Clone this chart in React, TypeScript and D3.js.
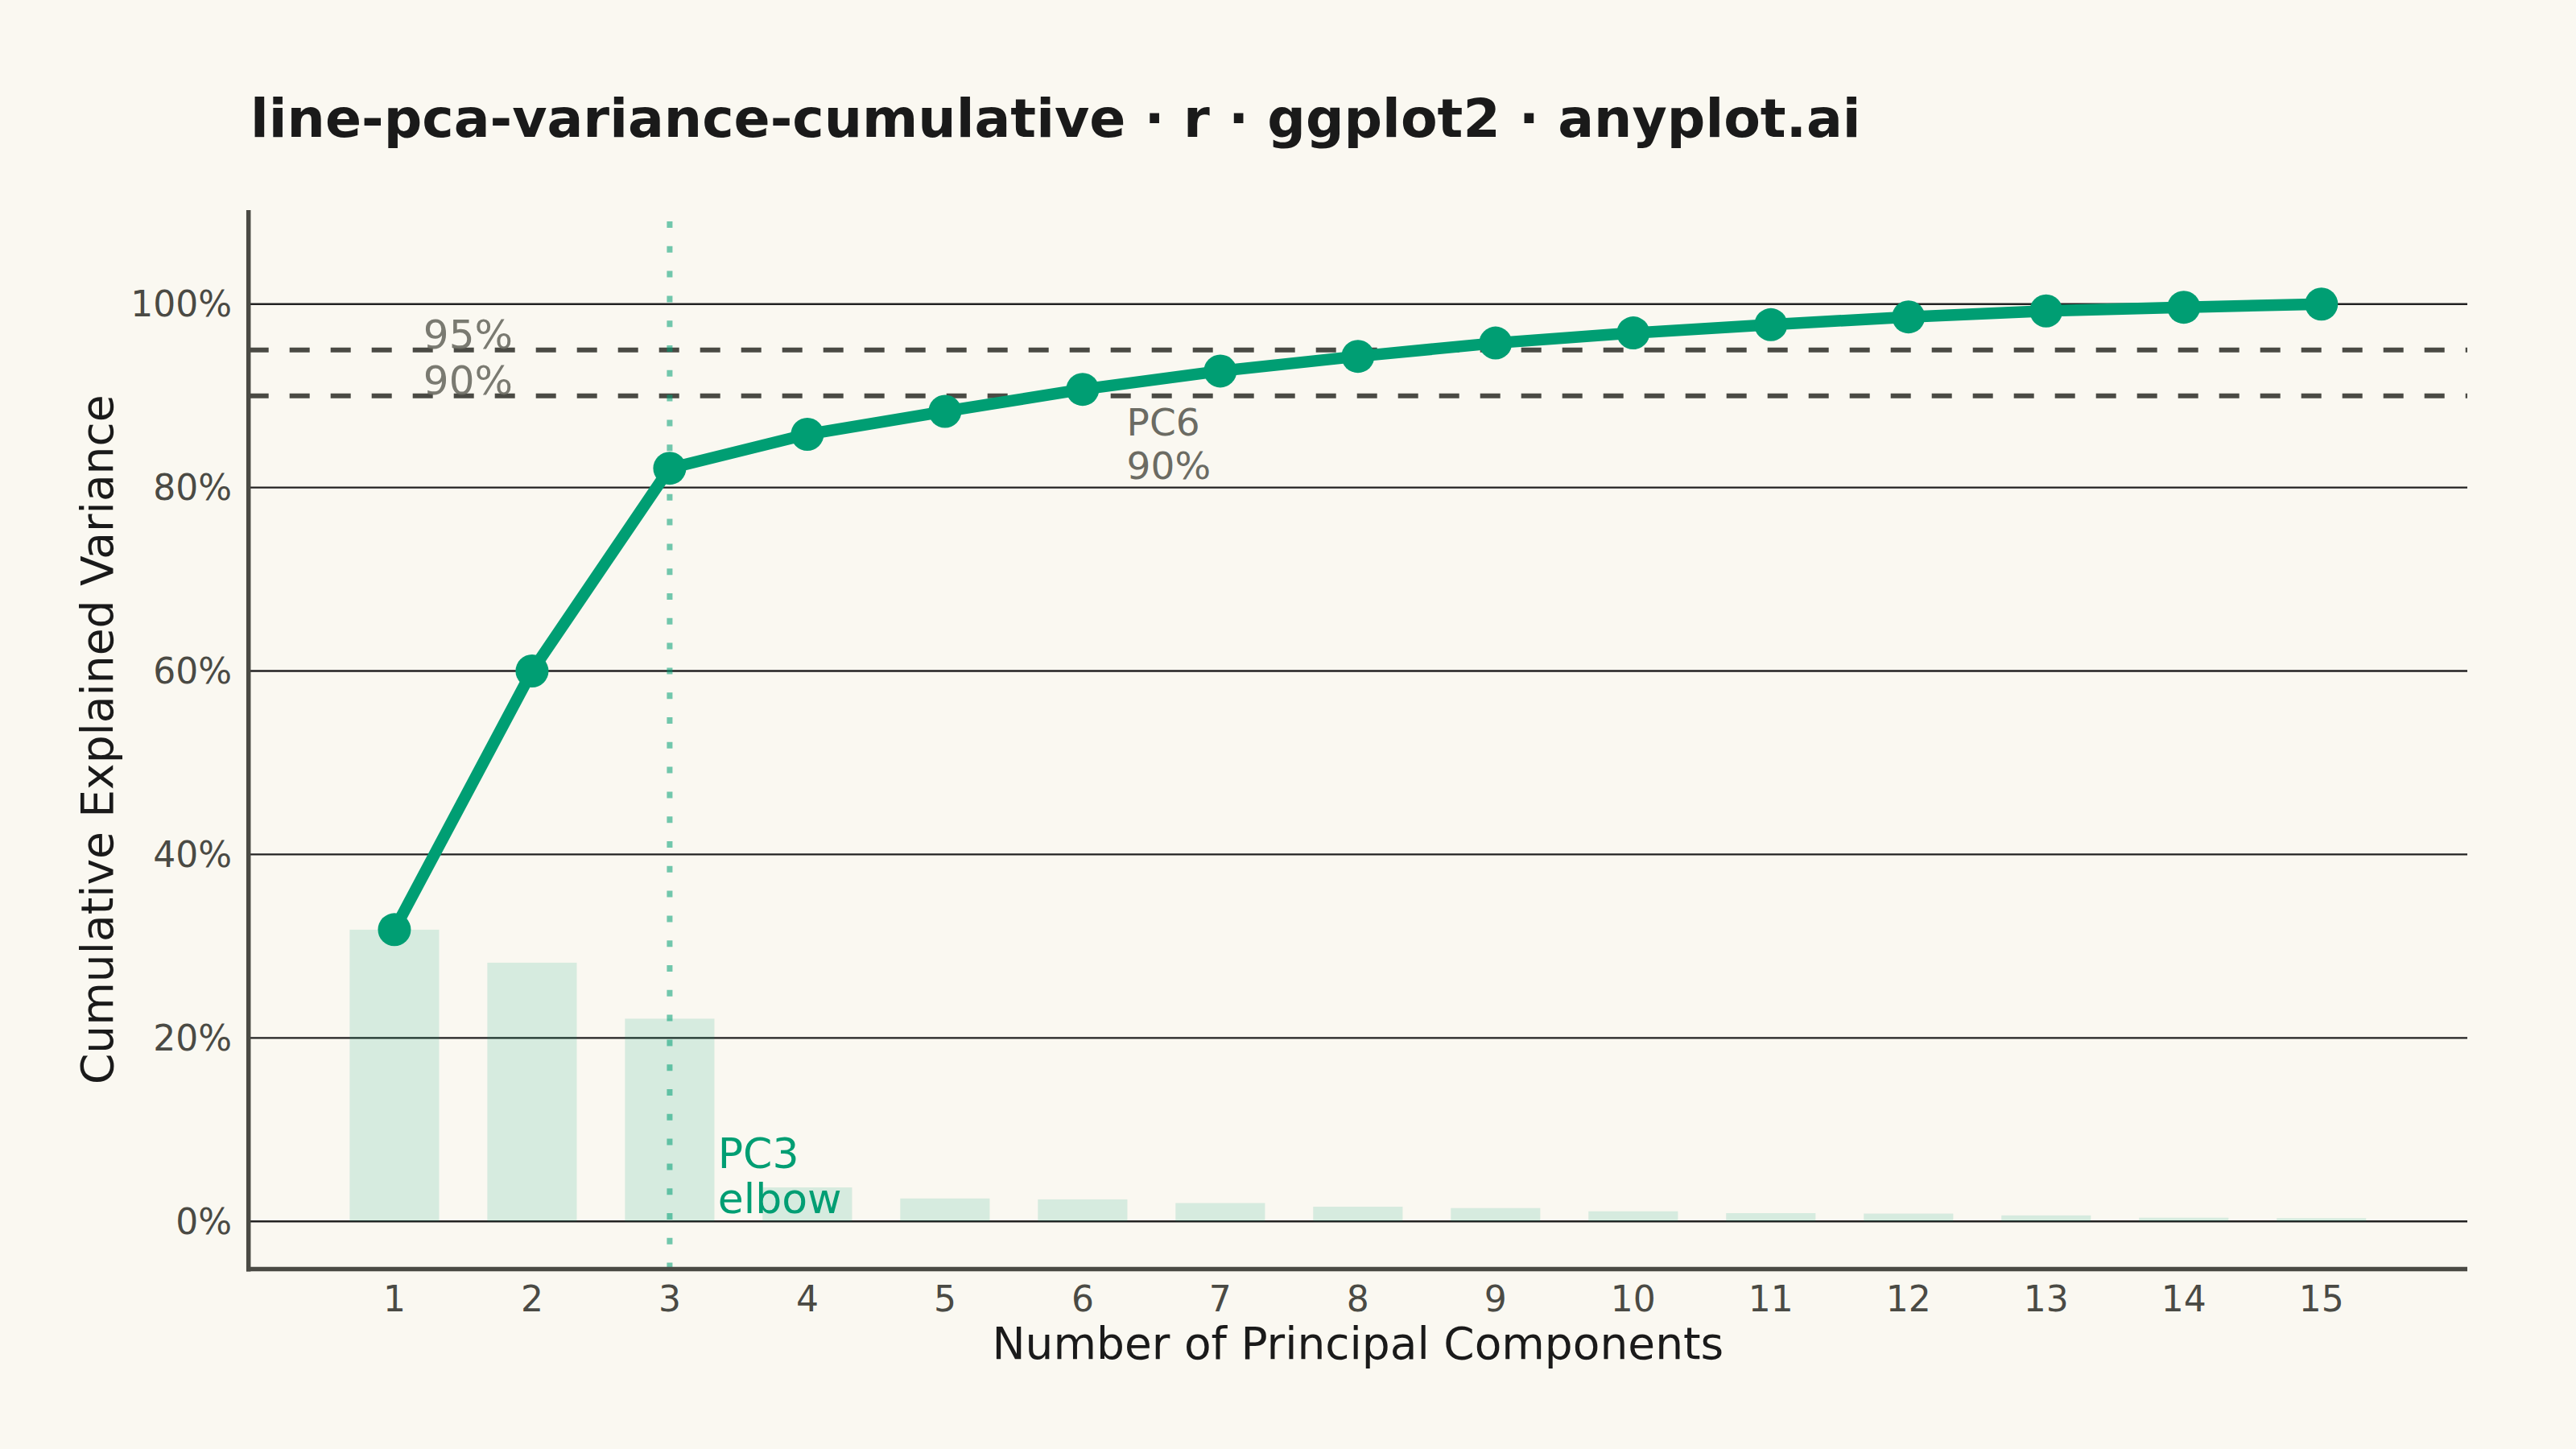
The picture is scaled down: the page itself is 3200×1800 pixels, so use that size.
import * as d3 from 'd3';

// Individual explained variance per principal component (%)
const components = [1, 2, 3, 4, 5, 6, 7, 8, 9, 10, 11, 12, 13, 14, 15];
const individualVariance = [31.8, 28.2, 22.1, 3.7, 2.5, 2.4, 2.0, 1.6, 1.45, 1.1, 0.9, 0.85, 0.65, 0.4, 0.35];
const yTicks = [0, 20, 40, 60, 80, 100];
const thresholds = [95, 90];

const W = 3200;
const H = 1800;
const BG = '#FAF8F1';
const GREEN = '#009E73';
const INK = '#1A1A1A';
const AXIS = '#4A4A44';
const FONT = '"DejaVu Sans", sans-serif';

export default function App() {
    const cumulative = Array.from(d3.cumsum(individualVariance));

    const x = d3.scaleLinear().domain([-0.06, 16.06]).range([308.7, 3065]);
    const y = d3.scaleLinear().domain([-5.2, 110.24]).range([1576.5, 261]);

    const barW = x(0.65) - x(0);

    const line = d3
        .line<number>()
        .x((_, i) => x(components[i]))
        .y((d) => y(d));

    const elbow = 3;
    const reach90 = components[cumulative.findIndex((c) => c >= 90)];

    return (
        <div style={{ margin: 0, background: BG }}>
            <style>{'body{margin:0;background:' + BG + '}'}</style>
            <svg width={W} height={H} style={{ display: 'block', fontFamily: FONT }}>
                <rect width={W} height={H} fill={BG} />

                {/* title */}
                <text x={311} y={170} fontSize={66.5} fontWeight="bold" fill={INK}>
                    line-pca-variance-cumulative · r · ggplot2 · anyplot.ai
                </text>

                {/* grid */}
                {yTicks.map((t) => (
                    <line key={'g' + t} x1={x.range()[0]} x2={x.range()[1]} y1={y(t)} y2={y(t)} stroke="#222" strokeWidth={2.4} />
                ))}

                {/* individual variance bars */}
                {individualVariance.map((v, i) => (
                    <rect
                        key={'b' + i}
                        x={x(components[i]) - barW / 2}
                        y={y(v)}
                        width={barW}
                        height={y(0) - y(v)}
                        fill={GREEN}
                        fillOpacity={0.14}
                    />
                ))}

                {/* threshold lines */}
                {thresholds.map((t) => (
                    <g key={'t' + t}>
                        <line
                            x1={x.range()[0]}
                            x2={x.range()[1]}
                            y1={y(t)}
                            y2={y(t)}
                            stroke={AXIS}
                            strokeWidth={6}
                            strokeDasharray="25 26"
                        />
                        <text x={x(1.21)} y={y(t) - 2} fontSize={50} fill="#6B6B63" fillOpacity={0.9}>
                            {t}%
                        </text>
                    </g>
                ))}

                {/* elbow marker */}
                <line
                    x1={x(elbow)}
                    x2={x(elbow)}
                    y1={275}
                    y2={y.range()[0]}
                    stroke={GREEN}
                    strokeOpacity={0.55}
                    strokeWidth={7}
                    strokeDasharray="8 22.8"
                />

                {/* cumulative line */}
                <path d={line(cumulative) ?? ''} fill="none" stroke={GREEN} strokeWidth={14.5} strokeLinejoin="round" />
                {cumulative.map((c, i) => (
                    <circle key={'p' + i} cx={x(components[i])} cy={y(c)} r={20.5} fill={GREEN} />
                ))}

                {/* annotations */}
                <text x={x(reach90 + 0.32)} y={y(90) + 49} fontSize={47} fill="#6B6B63">
                    <tspan x={x(reach90 + 0.32)}>PC{reach90}</tspan>
                    <tspan x={x(reach90 + 0.32)} dy={54}>90%</tspan>
                </text>
                <text x={x(elbow + 0.35)} y={y(0) - 66} fontSize={52} fill={GREEN}>
                    <tspan x={x(elbow + 0.35)}>PC{elbow}</tspan>
                    <tspan x={x(elbow + 0.35)} dy={56}>elbow</tspan>
                </text>

                {/* axes */}
                <line x1={x.range()[0]} x2={x.range()[0]} y1={y.range()[1]} y2={y.range()[0] + 3} stroke={AXIS} strokeWidth={5.5} />
                <line x1={x.range()[0] - 2.7} x2={x.range()[1]} y1={y.range()[0]} y2={y.range()[0]} stroke={AXIS} strokeWidth={5.5} />

                {yTicks.map((t) => (
                    <text key={'yl' + t} x={288} y={y(t) + 15.5} fontSize={44} fill={AXIS} textAnchor="end">
                        {t}%
                    </text>
                ))}
                {components.map((c) => (
                    <text key={'xl' + c} x={x(c)} y={1629} fontSize={44} fill={AXIS} textAnchor="middle">
                        {c}
                    </text>
                ))}

                <text x={(x.range()[0] + x.range()[1]) / 2} y={1688} fontSize={55} fill={INK} textAnchor="middle">
                    Number of Principal Components
                </text>
                <text
                    transform={`translate(140, ${(y.range()[0] + y.range()[1]) / 2}) rotate(-90)`}
                    fontSize={55}
                    fill={INK}
                    textAnchor="middle"
                >
                    Cumulative Explained Variance
                </text>
            </svg>
        </div>
    );
}
